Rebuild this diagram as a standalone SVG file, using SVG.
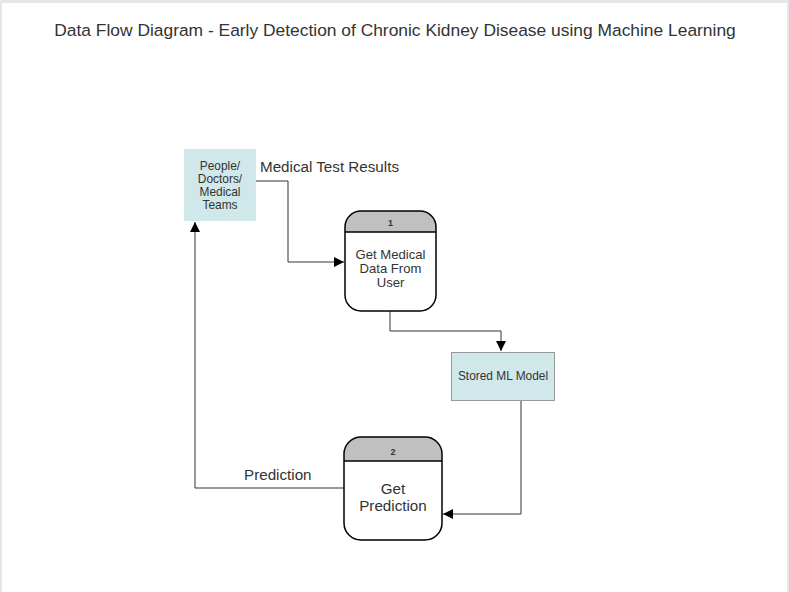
<svg xmlns="http://www.w3.org/2000/svg" width="789" height="592" viewBox="0 0 789 592">
<style>
text{font-family:"Liberation Sans",Arial,sans-serif;fill:#333}
.lbl{font-size:15.2px}
.edge{fill:none;stroke:#333;stroke-width:1}
.proc{fill:none;stroke:#000;stroke-width:1.5}
.hdr{fill:#c0c0c0}
.ext{fill:#d0e8ea}
.num{font-size:9px;font-weight:bold}
</style>
<defs>
<marker id="arr" viewBox="0 0 10 10" refX="10" refY="5" markerWidth="10" markerHeight="10" markerUnits="userSpaceOnUse" orient="auto">
<path d="M0,0 L10,5 L0,10 z" fill="#000"/>
</marker>
</defs>
<rect x="0" y="0" width="789" height="592" fill="#e4e6e9"/>
<rect x="2" y="3" width="785" height="589" fill="#fff"/>
<text x="395" y="36" text-anchor="middle" font-size="17.4">Data Flow Diagram - Early Detection of Chronic Kidney Disease using Machine Learning</text>

<g id="connectors">
<path class="edge" d="M256,181 H288 V262 H344" marker-end="url(#arr)"/>
<path class="edge" d="M390,311 V331 H501 V351" marker-end="url(#arr)"/>
<path class="edge" d="M521,400 V514 H443" marker-end="url(#arr)"/>
<path class="edge" d="M344,488 H195 V222" marker-end="url(#arr)"/>
<text class="lbl" x="260" y="172">Medical Test Results</text>
<text class="lbl" x="244" y="480">Prediction</text>
</g>

<g id="people">
<rect class="ext" x="184" y="149" width="72" height="72"/>
<text x="220" y="170" text-anchor="middle" font-size="11.9">People/</text>
<text x="220" y="183" text-anchor="middle" font-size="11.9">Doctors/</text>
<text x="220" y="196" text-anchor="middle" font-size="11.9">Medical</text>
<text x="220" y="209" text-anchor="middle" font-size="11.9">Teams</text>
</g>

<g id="process1">
<path class="hdr" d="M345,232 V227 A16,16 0 0 1 361,211 H420 A16,16 0 0 1 436,227 V232 Z"/>
<rect class="proc" x="345" y="211" width="91" height="100" rx="16"/>
<line x1="345" y1="232" x2="436" y2="232" stroke="#000" stroke-width="1.5"/>
<text class="num" x="390.5" y="226" text-anchor="middle">1</text>
<text x="390.5" y="259" text-anchor="middle" font-size="13.1">Get Medical</text>
<text x="390.5" y="273" text-anchor="middle" font-size="13.1">Data From</text>
<text x="390.5" y="287" text-anchor="middle" font-size="13.1">User</text>
</g>

<g id="mlmodel">
<rect class="ext" x="451.5" y="352.5" width="103" height="48" stroke="#999" stroke-width="1"/>
<text x="503" y="380" text-anchor="middle" font-size="11.9">Stored ML Model</text>
</g>

<g id="process2">
<path class="hdr" d="M344,461 V454 A17,17 0 0 1 361,437 H425 A17,17 0 0 1 442,454 V461 Z"/>
<rect class="proc" x="344" y="437" width="98" height="103" rx="17"/>
<line x1="344" y1="461" x2="442" y2="461" stroke="#000" stroke-width="1.5"/>
<text class="num" x="393" y="455" text-anchor="middle">2</text>
<text x="393" y="494" text-anchor="middle" font-size="15.2">Get</text>
<text x="393" y="511" text-anchor="middle" font-size="15.2">Prediction</text>
</g>
</svg>
